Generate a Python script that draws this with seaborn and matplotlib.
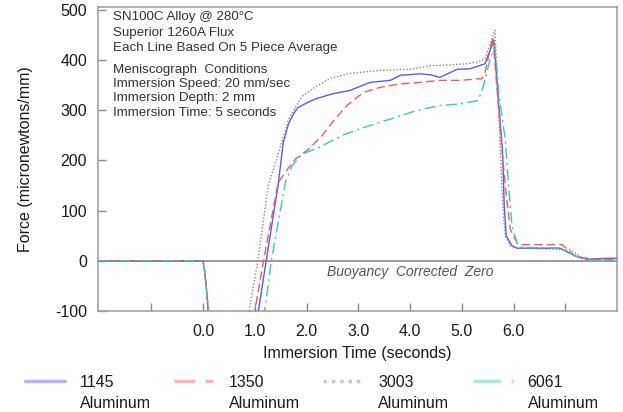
import matplotlib
matplotlib.use("Agg")
import matplotlib.pyplot as plt
import pandas as pd
import seaborn as sns
from matplotlib.lines import Line2D

# ---------------- data ----------------
alloys = ["1145", "1350", "3003", "6061"]
legend_second_line = "Aluminum"

t_1145 = [-2.03, 0.0, 0.03, 0.07, 0.10, 0.14, 0.97, 1.07, 1.22, 1.45, 1.55, 1.65, 1.75, 1.84,
          2.0, 2.17, 2.49, 2.84, 3.23, 3.62, 3.81, 4.2, 4.39, 4.58, 4.91, 5.16, 5.36, 5.45,
          5.62, 5.70, 5.79, 5.82, 5.86, 5.97, 6.07, 6.9, 7.2, 7.42, 7.8, 8.0]
f_1145 = [0, 0, -20, -60, -100, -160, -160, -100, 0, 150, 235, 272, 293, 305,
          314, 322, 332, 339, 355, 359, 369, 372, 370, 365, 381, 382, 389, 392,
          439, 330, 215, 109, 49, 30, 25, 25, 9, 3, 5, 5]

t_1350 = [-2.03, 0.0, 0.03, 0.07, 0.10, 0.14, 0.90, 1.0, 1.17, 1.45, 1.59, 1.78, 2.04, 2.30,
          2.55, 2.78, 3.1, 3.42, 3.81, 4.2, 4.58, 4.97, 5.32, 5.39, 5.45, 5.60, 5.69, 5.78,
          5.87, 5.94, 6.07, 6.15, 6.94, 7.16, 7.3, 7.6, 8.0]
f_1350 = [0, 0, -20, -60, -100, -160, -160, -100, 0, 155, 176, 202, 222, 249,
          282, 309, 335, 345, 352, 355, 359, 359, 362, 362, 375, 445, 330, 215,
          122, 62, 35, 32, 32, 12, 6, 3, 3]

t_3003 = [-2.03, 0.0, 0.03, 0.07, 0.10, 0.14, 0.79, 0.89, 1.06, 1.26, 1.46, 1.65, 1.91, 2.17,
          2.46, 2.84, 3.23, 3.62, 4.0, 4.39, 4.78, 5.1, 5.29, 5.45, 5.64, 5.70, 5.75, 5.79,
          5.84, 5.94, 6.07, 7.1, 7.3, 7.5, 8.0]
f_3003 = [0, 0, -20, -60, -100, -160, -160, -100, 0, 150, 215, 281, 327, 346,
          363, 373, 377, 380, 381, 388, 390, 392, 395, 402, 459, 330, 210, 109,
          49, 29, 25, 22, 8, 3, 4]

t_6061 = [-2.03, 0.0, 0.03, 0.07, 0.11, 0.15, 1.09, 1.19, 1.32, 1.59, 1.72, 1.91, 2.23, 2.55,
          2.75, 3.1, 3.62, 4.13, 4.58, 4.97, 5.32, 5.42, 5.55, 5.64, 5.72, 5.84, 5.91, 5.97,
          6.07, 6.15, 6.9, 7.2, 7.5, 7.8, 8.0]
f_6061 = [0, 0, -20, -60, -100, -160, -160, -100, 0, 155, 189, 212, 225, 242,
          252, 265, 282, 299, 309, 312, 319, 349, 402, 429, 330, 242, 142, 69,
          35, 27, 25, 9, 1, -1, 0]

x_ticks = [-1, 0, 1, 2, 3, 4, 5, 6, 7]
x_tick_labels = ["", "0.0", "1.0", "2.0", "3.0", "4.0", "5.0", "6.0", ""]
y_ticks = [-100, 0, 100, 200, 300, 400, 500]

notes_top = ["SN100C Alloy @ 280°C", "Superior 1260A Flux", "Each Line Based On 5 Piece Average"]
notes_cond = ["Meniscograph  Conditions", "Immersion Speed: 20 mm/sec",
              "Immersion Depth: 2 mm", "Immersion Time: 5 seconds"]
zero_note = "Buoyancy  Corrected  Zero"

colors = {"1145": "#5a5af0", "1350": "#f05c5c", "3003": "#8a8a8a", "6061": "#3cc8b4"}
dashes = {"1145": "", "1350": (6, 3), "3003": (1, 1.4), "6061": (8, 3, 1.5, 3)}

series = {"1145": (t_1145, f_1145), "1350": (t_1350, f_1350),
          "3003": (t_3003, f_3003), "6061": (t_6061, f_6061)}
df = pd.concat([pd.DataFrame({"t": t, "F": f, "alloy": a}) for a, (t, f) in series.items()],
               ignore_index=True)

# ---------------- style ----------------
sns.set_style("white")
plt.rcParams["font.family"] = ["Liberation Sans", "DejaVu Sans"]
plt.rcParams["axes.unicode_minus"] = False

fig = plt.figure(figsize=(6.23, 4.12), dpi=100)
ax = fig.add_axes([0.1573, 0.2451, 0.8331, 0.7379])

ax.axhline(0, color="#7f7f7f", lw=1.1, zorder=1)

sns.lineplot(data=df, x="t", y="F", hue="alloy", style="alloy", hue_order=alloys,
             style_order=alloys, palette=colors, dashes=dashes, estimator=None,
             sort=False, lw=1.0, ax=ax, legend=False, zorder=3)

ax.set_xlim(-2.03, 8.0)
ax.set_ylim(-100, 505)
ax.set_xticks(x_ticks)
ax.set_xticklabels(x_tick_labels)
ax.set_yticks(y_ticks)
ax.tick_params(axis="both", direction="in", length=6, width=1, color="#8a8a8a",
               labelsize=11.5, labelcolor="#1a1a1a", bottom=True, left=True,
               top=False, right=False)
ax.tick_params(axis="x", pad=9.5)
ax.tick_params(axis="y", pad=8)
for s in ax.spines.values():
    s.set_color("#9a9a9a")
    s.set_linewidth(1.1)

ax.set_xlabel("Immersion Time (seconds)", fontsize=11.5, color="#1a1a1a", labelpad=5)
ax.set_ylabel("Force (micronewtons/mm)", fontsize=11.5, color="#1a1a1a", labelpad=16)

# annotations
ys_top = [17.3, 32.7, 48.3]
ys_cond = [70, 84, 98.3, 112.7]
for txt, py in zip(notes_top + notes_cond, ys_top + ys_cond):
    ax.text(113 / 623, 1 - py / 412, txt, transform=fig.transFigure, fontsize=9.6,
            color="#333333", va="center", ha="left")
ax.text(2.39, -22, zero_note, fontsize=10, style="italic", color="#555555",
        va="center", ha="left")

# legend
handles = [Line2D([], [], color=colors[a], lw=2.5, alpha=0.45,
                  dashes=dashes[a]) if dashes[a] else
           Line2D([], [], color=colors[a], lw=2.5, alpha=0.45) for a in alloys]
leg = fig.legend(handles, alloys, ncol=4, loc="center left",
                 bbox_to_anchor=(25 / 623, 1 - 382.5 / 412), frameon=False,
                 fontsize=11.5, handlelength=2.5, handletextpad=0.94,
                 columnspacing=3.7, borderpad=0, borderaxespad=0)
for tx in leg.get_texts():
    tx.set_color("#1a1a1a")

fig.canvas.draw()
inv = fig.transFigure.inverted()
for tx in leg.get_texts():
    bb = tx.get_window_extent()
    x0 = inv.transform((bb.x0, bb.y0))[0]
    fig.text(x0, 1 - 403 / 412, legend_second_line, fontsize=11.5, color="#1a1a1a",
             va="center", ha="left")

fig.savefig("out.png", dpi=100)
